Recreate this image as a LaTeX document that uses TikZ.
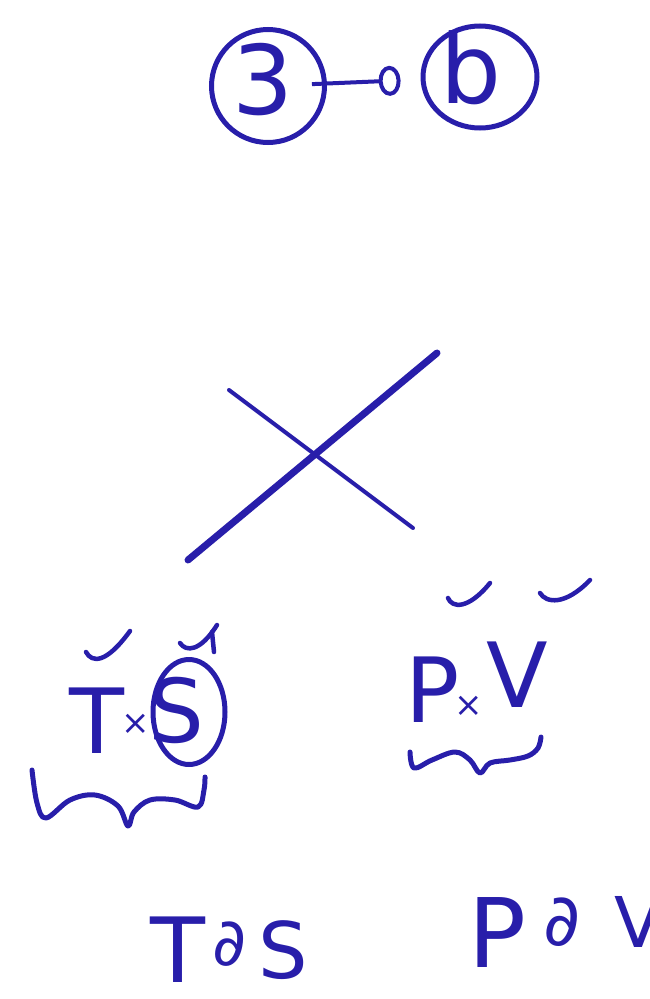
\documentclass[tikz,border=0pt]{standalone}
\usepackage{fontspec}
\setmainfont{DejaVu Sans}
\usetikzlibrary{shapes.geometric, arrows.meta}
\definecolor{ink}{RGB}{40,30,170}
\tikzset{
    inktext/.style={text=ink, inner sep=0pt, font=\fontsize{90}{96}\selectfont},
    timestext/.style={text=ink, inner sep=0pt, font=\fontsize{34}{38}\selectfont},
    ringnode/.style={draw=ink, ellipse, line width=5pt, inner sep=0pt},
    tickmark/.style={draw=ink, line width=4.5pt, line cap=round, line join=round},
    wavybrace/.style={draw=ink, line width=5pt, line cap=round, line join=round},
    crossbar/.style={draw=ink, line cap=round},
}

\begin{document}
\begin{tikzpicture}[x=1pt, y=-1pt]
\useasboundingbox (0,0) rectangle (650,999);

% top: 3 -o b
\node[ringnode, minimum width=113pt, minimum height=113pt] (three) at (268,86) {};
\node[inktext, font=\fontsize{96}{100}\selectfont] (threetext) at (263,80) {3};
\node[ringnode, minimum width=114pt, minimum height=102pt] (bee) at (480,77) {};
\node[inktext, font=\fontsize{96}{100}\selectfont] (beetext) at (471,68) {b};
\draw[ink, line width=4pt, shorten <=-15pt, shorten >=20pt,
      -{Circle[open, length=22pt, width=30pt, line width=4pt]}] (three) -- (bee);

% the cross
\coordinate (xa) at (188,560);
\coordinate (xb) at (437,353);
\coordinate (xc) at (229,390);
\coordinate (xd) at (413,528);
\draw[crossbar, line width=7pt] (xa) -- (xb);
\draw[crossbar, line width=4pt] (xc) -- (xd);

% T x S
\node[inktext] (tee) at (97,721) {T};
\node[timestext] (tstimes) at (136,724) {×};
\node[inktext, font=\fontsize{88}{94}\selectfont] (ess) at (176,710) {S};
\node[ringnode, minimum width=72pt, minimum height=105pt] (essring) at (189,712) {};
\draw[tickmark] (86,652) .. controls (92,663) and (106,664) .. (130,631);
\draw[tickmark] (180,643) .. controls (186,652) and (200,652) .. (217,625);
\draw[tickmark] (212,632) -- (214,652);
\draw[wavybrace] plot[smooth, tension=0.6] coordinates {(32,770) (37,803) (46,818) (70,800) (95,795) (118,806) (128,826) (134,812) (150,800) (175,800) (198,807) (204,790) (205,777)};

% P x V
\node[inktext] (pee) at (433,690) {P};
\node[timestext] (pvtimes) at (469,706) {×};
\node[inktext] (vee) at (517,675) {V};
\draw[tickmark] (448,598) .. controls (452,608) and (468,610) .. (490,583);
\draw[tickmark] (540,593) .. controls (546,603) and (565,606) .. (590,580);
\draw[wavybrace] plot[smooth, tension=0.6] coordinates {(410,752) (414,768) (432,760) (455,752) (470,760) (480,773) (490,763) (510,760) (528,756) (538,748) (541,737)};

% bottom
\node[inktext, font=\fontsize{90}{96}\selectfont] (tbot) at (178,950) {T};
\node[inktext, font=\fontsize{66}{70}\selectfont] (dtbot) at (230,944) {∂};
\node[inktext, font=\fontsize{78}{84}\selectfont] (sbot) at (283,950) {S};
\node[inktext, font=\fontsize{96}{100}\selectfont] (pbot) at (497,932) {P};
\node[inktext, font=\fontsize{72}{78}\selectfont] (dpbot) at (562,922) {∂};
\node[inktext, font=\fontsize{70}{76}\selectfont] (vbot) at (638,922) {V};
\end{tikzpicture}
\end{document}
